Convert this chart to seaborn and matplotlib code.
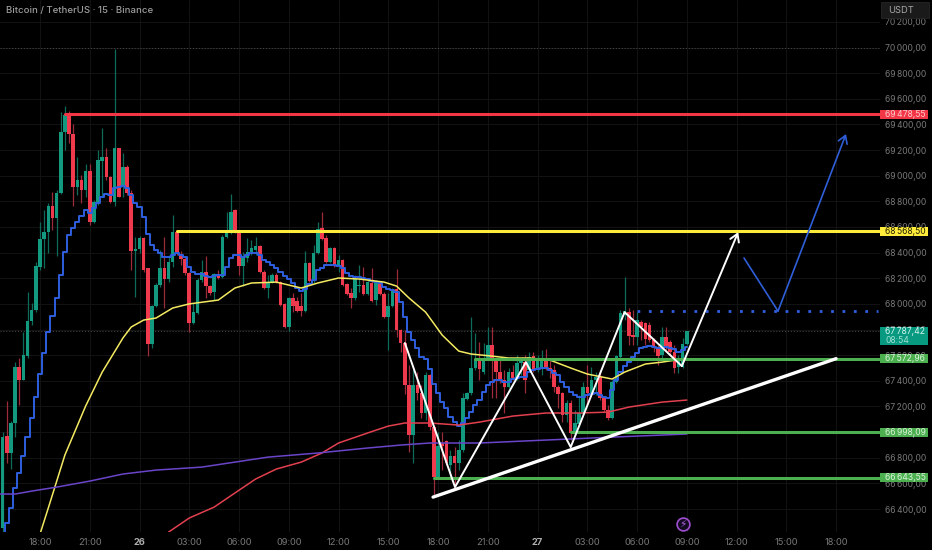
import matplotlib
matplotlib.use("Agg")
import matplotlib.pyplot as plt
import seaborn as sns

# 15 minute candles, bar 0 = 18:00 on the 25th
first_bar = -9
opens = [
    66252, 66970, 66837, 67071, 67507, 67406, 67593, 67866, 67952, 68287,
    68506, 68560, 68763, 68670, 68865, 69340, 69473, 69325, 68911, 68966,
    68888, 69036, 68638, 68787, 69114, 69145, 68989, 68794, 69216, 68911,
    69067, 68865, 68412, 68428, 68514, 68280, 67687, 67983, 68147, 68280,
    68194, 68326, 68560, 68389, 68350, 68241, 67851, 67929, 68186, 68248,
    68139, 68092, 68233, 68209, 68521, 68560, 68732, 68560, 68295, 68358,
    68404, 68420, 68451, 68248, 68124, 68170, 68225, 68170, 67999, 67819,
    68046, 68022, 67983, 67944, 68319, 68178, 68397, 68592, 68514, 68326,
    68436, 68295, 68342, 68155, 68085, 68046, 68139, 68147, 68077, 68163,
    68030, 68155, 68077, 67897, 67983, 68116, 67796, 67695, 67367, 66977,
    67367, 67305, 67149, 67445, 67039, 66649, 66915, 66930, 66743, 66813,
    66759, 66860, 67258, 67305, 67500, 67570, 67468, 67570, 67679, 67554,
    67468, 67406, 67351, 67468, 67414, 67539, 67546, 67484, 67593, 67500,
    67500, 67562, 67500, 67484, 67351, 67305, 67133, 67227, 66993, 67063,
    67141, 67351, 67305, 67406, 67429, 67266, 67172, 67110, 67390, 67585,
    67913, 67936, 67757, 67741, 67858, 67851, 67835, 67718, 67663, 67601,
    67741, 67702, 67624, 67507, 67507, 67687,
]
closes = [
    66961, 66837, 67071, 67507, 67406, 67601, 67866, 67952, 68295, 68506,
    68560, 68763, 68670, 68865, 69340, 69473, 69325, 68911, 68966, 68888,
    69036, 68638, 68794, 69122, 69145, 68989, 68794, 69216, 68833, 69067,
    68865, 68412, 68428, 68514, 68264, 67687, 67983, 68147, 68280, 68194,
    68326, 68560, 68397, 68350, 68241, 67851, 67936, 68186, 68248, 68139,
    68085, 68233, 68202, 68521, 68576, 68716, 68560, 68295, 68358, 68404,
    68436, 68451, 68248, 68124, 68170, 68225, 68170, 67991, 67819, 68046,
    67983, 67944, 67944, 68319, 68178, 68397, 68584, 68506, 68326, 68436,
    68295, 68342, 68147, 68077, 68046, 68194, 68147, 68077, 68170, 68022,
    68163, 68077, 67897, 67983, 68108, 67796, 67695, 67367, 66977, 67367,
    67305, 67149, 67445, 67039, 66649, 66891, 66891, 66759, 66813, 66759,
    66860, 67266, 67305, 67500, 67570, 67492, 67570, 67679, 67554, 67468,
    67406, 67351, 67468, 67422, 67539, 67562, 67406, 67585, 67484, 67562,
    67562, 67500, 67484, 67351, 67297, 67133, 67227, 66993, 67071, 67149,
    67351, 67305, 67406, 67429, 67266, 67172, 67110, 67390, 67593, 67929,
    67944, 67749, 67741, 67874, 67819, 67726, 67718, 67663, 67593, 67741,
    67656, 67624, 67500, 67562, 67687, 67787.42,
]
highs = [
    67000, 67242, 67086, 67546, 67578, 67780, 68092, 68007, 68326, 68638,
    68732, 68787, 68872, 68888, 69496, 69543, 69504, 69403, 69145, 69005,
    69091, 69091, 68810, 69200, 69372, 69216, 68997, 69990, 69216, 69177,
    69083, 68888, 68521, 68530, 68521, 68280, 67991, 68163, 68420, 68521,
    68381, 68693, 68576, 68412, 68365, 68248, 68007, 68202, 68342, 68373,
    68147, 68241, 68264, 68537, 68716, 68857, 68740, 68568, 68404, 68514,
    68498, 68521, 68459, 68264, 68225, 68241, 68241, 68178, 68007, 68053,
    68085, 68053, 68085, 68412, 68326, 68459, 68638, 68716, 68537, 68444,
    68444, 68381, 68350, 68163, 68124, 68225, 68303, 68287, 68186, 68280,
    68186, 68170, 68092, 68085, 68124, 68272, 67804, 67796, 67523, 67484,
    67468, 67367, 67468, 67453, 67055, 67000, 67000, 66938, 66860, 66883,
    66938, 67305, 67313, 67897, 67773, 67702, 67695, 67819, 67819, 67562,
    67562, 67484, 67500, 67523, 67601, 67578, 67601, 67624, 67624, 67601,
    67640, 67648, 67562, 67523, 67367, 67313, 67250, 67250, 67172, 67289,
    67390, 67523, 67507, 67468, 67484, 67274, 67211, 67406, 67601, 67952,
    68210, 67968, 67952, 67936, 67874, 67858, 67858, 67734, 67679, 67819,
    67819, 67718, 67679, 67601, 67734, 67790,
]
lows = [
    66220, 66759, 66712, 66961, 67211, 67406, 67578, 67835, 67936, 68264,
    68280, 68397, 68576, 68373, 68857, 69200, 69255, 68763, 68849, 68787,
    68833, 68615, 68631, 68771, 68841, 68966, 68787, 68763, 68833, 68833,
    68849, 68264, 68053, 68397, 68248, 67593, 67656, 67975, 68131, 67968,
    68170, 68287, 68381, 68303, 68225, 67780, 67843, 67921, 68170, 68046,
    68069, 68030, 68194, 68202, 68514, 68545, 68553, 68225, 68139, 68326,
    68381, 68381, 68241, 68116, 68046, 68163, 68163, 67983, 67812, 67788,
    67936, 67936, 67905, 67936, 68170, 68163, 68389, 68498, 68319, 68319,
    68287, 68248, 68139, 68069, 67968, 68030, 68092, 68069, 68069, 68014,
    67991, 68069, 67890, 67640, 67975, 67741, 67624, 67297, 66844, 66759,
    67250, 67110, 67094, 67016, 66509, 66641, 66704, 66743, 66649, 66571,
    66704, 66844, 67250, 67289, 67484, 67406, 67453, 67562, 67266, 67266,
    67383, 67149, 67344, 67406, 67406, 67445, 67305, 67468, 67468, 67468,
    67445, 67484, 67422, 67313, 67188, 67078, 67078, 66938, 66977, 67047,
    67133, 67211, 67289, 67289, 67250, 67156, 67094, 67102, 67383, 67578,
    67874, 67679, 67679, 67679, 67718, 67679, 67702, 67624, 67523, 67578,
    67640, 67601, 67460, 67460, 67500, 67679,
]

# blue stepped average, one value per candle
blue_ma = [
    66197, 66291, 66408, 66564, 66681, 66813, 66961, 67110, 67273, 67453,
    67617, 67780, 67905, 68046, 68225, 68404, 68537, 68592, 68638, 68685,
    68732, 68709, 68748, 68787, 68833, 68857, 68849, 68904, 68911, 68919,
    68904, 68849, 68787, 68755, 68677, 68545, 68459, 68420, 68397, 68365,
    68365, 68381, 68397, 68381, 68365, 68287, 68248, 68233, 68233, 68217,
    68209, 68217, 68225, 68225, 68287, 68358, 68381, 68381, 68365, 68381,
    68397, 68397, 68381, 68342, 68326, 68303, 68280, 68248, 68217, 68194,
    68163, 68124, 68100, 68116, 68155, 68186, 68264, 68280, 68303, 68303,
    68303, 68295, 68280, 68241, 68217, 68209, 68209, 68202, 68194, 68178,
    68170, 68163, 68131, 68116, 68108, 68092, 68014, 67897, 67780, 67718,
    67656, 67585, 67570, 67492, 67375, 67305, 67234, 67188, 67117, 67078,
    67047, 67071, 67110, 67156, 67211, 67250, 67313, 67367, 67390, 67406,
    67406, 67390, 67390, 67414, 67422, 67429, 67429, 67468, 67484, 67492,
    67500, 67500, 67484, 67460, 67445, 67390, 67351, 67313, 67289, 67273,
    67273, 67289, 67297, 67305, 67289, 67273, 67266, 67328, 67406, 67468,
    67515, 67546, 67585, 67617, 67656, 67663, 67671, 67663, 67656, 67656,
    67663, 67656, 67648, 67624, 67640, 67663,
]

# smooth averages, read at a few bars
yellow_bars = [0, 2, 6, 11, 15, 20, 22, 25, 28, 32, 36, 43, 47, 51, 57, 63, 67, 72, 77, 83, 86, 89,
               93, 97, 101, 104, 109, 113, 118, 123, 128, 132, 138, 141, 146, 150, 155]
yellow_ma = [66205, 66408, 66821, 67203, 67468, 67734, 67820, 67874, 67890, 67968, 68000, 68030,
             68124, 68163, 68170, 68124, 68163, 68202, 68194, 68170, 68139, 68046, 67936, 67757,
             67632, 67609, 67593, 67578, 67578, 67562, 67500, 67453, 67414, 67468, 67531, 67546, 67570]
red_bars = [31, 36, 42, 47, 52, 57, 63, 68, 72, 79, 84, 88, 94, 101, 106, 114, 122, 130, 137, 142, 150, 156]
red_ma = [66220, 66330, 66415, 66525, 66634, 66712, 66766, 66837, 66915, 66993, 67047, 67071, 67071,
          67055, 67078, 67125, 67149, 67149, 67156, 67195, 67234, 67250]
purple_bars = [-10, -6, -2, 4, 12, 20, 28, 39, 47, 55, 67, 79, 87, 94, 106, 122, 138, 156]
purple_ma = [66517, 66517, 66540, 66571, 66618, 66673, 66704, 66727, 66766, 66805, 66837, 66876,
             66899, 66915, 66915, 66938, 66961, 66985]

# drawn levels: start bar, price, label
level_starts = [6, 33, 105, 128, 95]
level_prices = [69478.55, 68568.50, 67572.96, 66998.09, 66643.55]
level_labels = ["69\u2009478,55", "68\u2009568,50", "67\u2009572,96", "66\u2009998,09", "66\u2009643,55"]
level_colors = ["#f23645", "#ffeb3b", "#4caf50", "#4caf50", "#4caf50"]
level_text = ["#ffc9cf", "#222200", "#d9f2da", "#d9f2da", "#d9f2da"]

# hand drawn paths
zigzag_bars = [88, 100.1, 117.2, 128, 141, 154.8]
zigzag_prices = [67695, 66571, 67546, 66883, 67936, 67515]
zigzag_tip = (168.4, 68560)
trend_bars = [94.8, 192]
trend_prices = [66493, 67572.96]
blue_path_bars = [169.8, 178]
blue_path_prices = [68358, 67944]
blue_tip = (194.4, 69325)
dotted_bars = [144, 202]
dotted_price = 67948

time_ticks = [0, 12, 24, 36, 48, 60, 72, 84, 96, 108, 120, 132, 144, 156, 168, 180, 192]
time_labels = ["18:00", "21:00", "26", "03:00", "06:00", "09:00", "12:00", "15:00", "18:00",
               "21:00", "27", "03:00", "06:00", "09:00", "12:00", "15:00", "18:00"]
price_ticks = [66400, 66600, 66800, 67000, 67200, 67400, 67600, 67800, 68000, 68200,
               68400, 68600, 68800, 69000, 69200, 69400, 69600, 69800, 70000, 70200]
price_labels = ["66\u2009400,00", "66\u2009600,00", "66\u2009800,00", "67\u2009000,00", "67\u2009200,00",
                "67\u2009400,00", "67\u2009600,00", "67\u2009800,00", "68\u2009000,00", "68\u2009200,00",
                "68\u2009400,00", "68\u2009600,00", "68\u2009800,00", "69\u2009000,00", "69\u2009200,00",
                "69\u2009400,00", "69\u2009600,00", "69\u2009800,00", "70\u2009000,00", "70\u2009200,00"]

sns.set_theme(style="dark", rc={"figure.facecolor": "black", "axes.facecolor": "black"})
plt.rcParams["font.family"] = ["Inter", "DejaVu Sans"]

W, H = 932, 550
fig = plt.figure(figsize=(W / 100, H / 100), dpi=100)
ax = fig.add_axes([0, 18 / H, 880 / W, 532 / H])
ax.set_xlim(-9.648, 202.6)
ax.set_ylim(66220.9, 70370.5)
for s in ax.spines.values():
    s.set_visible(False)

ax.grid(True, color="#121212", lw=0.8)
ax.set_axisbelow(True)
ax.axhline(70000, color="#4a4a4a", lw=0.7, ls=(0, (1, 2)))
ax.axhline(closes[-1], color="#4a4a4a", lw=0.7, ls=(0, (1, 2)))

# candles
bars = list(range(first_bar, first_bar + len(opens)))
up = "#12997f"
down = "#ee3a4c"
for b, o, c, hi, lo in zip(bars, opens, closes, highs, lows):
    ax.vlines(b, lo, hi, color="#0e6b59" if c >= o else "#9c2c3a", lw=0.9, zorder=2)
    ax.bar(b, abs(c - o), bottom=min(o, c), width=0.86, color=up if c >= o else down,
           edgecolor="none", linewidth=0, zorder=2.2)

# moving averages
sns.lineplot(x=bars, y=blue_ma, ax=ax, color="#2f5fe0", lw=1.4, drawstyle="steps-mid", zorder=3)
sns.lineplot(x=yellow_bars, y=yellow_ma, ax=ax, color="#f4ea62", lw=1.1, zorder=3)
sns.lineplot(x=red_bars, y=red_ma, ax=ax, color="#e2404f", lw=1.1, zorder=3)
sns.lineplot(x=purple_bars, y=purple_ma, ax=ax, color="#6a45c9", lw=1.1, zorder=3)

# level lines with price tags on the axis
tag_tr = ax.get_yaxis_transform()
for start, price, label, col, txt in zip(level_starts, level_prices, level_labels, level_colors, level_text):
    sns.lineplot(x=[start, 202.6], y=[price, price], ax=ax, color=col, lw=2.2, zorder=4)
    ax.add_patch(plt.Rectangle((1.0, price - 35), 48 / 880, 70, transform=tag_tr, fc=col, ec="none",
                               clip_on=False, zorder=7))
    ax.text(885 / 880, price, label, transform=tag_tr, color=txt, fontsize=6.2, va="center", ha="left",
            clip_on=False, zorder=8)

ax.add_patch(plt.Rectangle((1.0, 67680), 48 / 880, 140, transform=tag_tr, fc="#089981", ec="none",
                           clip_on=False, zorder=7))
ax.text(885 / 880, closes[-1], "67\u2009787,42", transform=tag_tr, color="#d5f5ee", fontsize=6.2,
        va="center", ha="left", clip_on=False, zorder=8)
ax.text(885 / 880, 67715, "08:54", transform=tag_tr, color="#9fe0d2", fontsize=6.2,
        va="center", ha="left", clip_on=False, zorder=8)

# hand drawn paths
sns.lineplot(x=dotted_bars, y=[dotted_price, dotted_price], ax=ax, color="#2f5fe0", lw=2, ls=(0, (1, 3.1)), zorder=4)
sns.lineplot(x=trend_bars, y=trend_prices, ax=ax, color="white", lw=2.4, zorder=5, sort=False, estimator=None)
sns.lineplot(x=zigzag_bars, y=zigzag_prices, ax=ax, color="white", lw=1.4, zorder=5, sort=False, estimator=None)
ax.annotate("", xy=zigzag_tip, xytext=(zigzag_bars[-1], zigzag_prices[-1]), zorder=5,
            arrowprops=dict(arrowstyle="->,head_length=0.45,head_width=0.28", color="white", lw=1.4, shrinkA=0, shrinkB=0))
sns.lineplot(x=blue_path_bars, y=blue_path_prices, ax=ax, color="#2f5fd8", lw=1.2, zorder=5, sort=False, estimator=None)
ax.annotate("", xy=blue_tip, xytext=(blue_path_bars[-1], blue_path_prices[-1]), zorder=5,
            arrowprops=dict(arrowstyle="->,head_length=0.45,head_width=0.28", color="#2f5fd8", lw=1.2, shrinkA=0, shrinkB=0))

# bolt marker under the last bar
ax.scatter([155], [66283], s=85, facecolor="#140a22", edgecolor="#a04fd0", lw=1.2, zorder=6)
ax.text(155, 66283, "\u26a1", color="#b565e8", fontsize=7.5, ha="center", va="center", zorder=7,
        family=["DejaVu Sans"])

# axes text
ax.yaxis.tick_right()
ax.set_yticks(price_ticks, price_labels)
ax.set_xticks(time_ticks, time_labels)
ax.tick_params(axis="y", length=0, pad=3.6, labelsize=6.2, labelcolor="#787878")
ax.tick_params(axis="x", length=0, pad=4.5, labelsize=6.7, labelcolor="#787878")
for lab in ax.get_xticklabels():
    if lab.get_text() in ("26", "27"):
        lab.set_color("#b0b0b0")
        lab.set_fontweight("bold")

fig.text(6 / W, 1 - 10 / H, "Bitcoin / TetherUS \u00b7 15 \u00b7 Binance", color="#9c9c9c", fontsize=6.9,
         va="center", ha="left", fontweight="medium")

# currency button
box = plt.Rectangle((881 / W, 1 - 18 / H), 48 / W, 16 / H, transform=fig.transFigure, fc="#1a1a1a", ec="#262626", lw=0.6, zorder=9)
fig.patches.append(box)
fig.text(888 / W, 1 - 10.3 / H, "USDT", color="#a8a8a8", fontsize=6.7, va="center", ha="left", zorder=10)

plt.savefig("out.png", dpi=100, facecolor="black")
